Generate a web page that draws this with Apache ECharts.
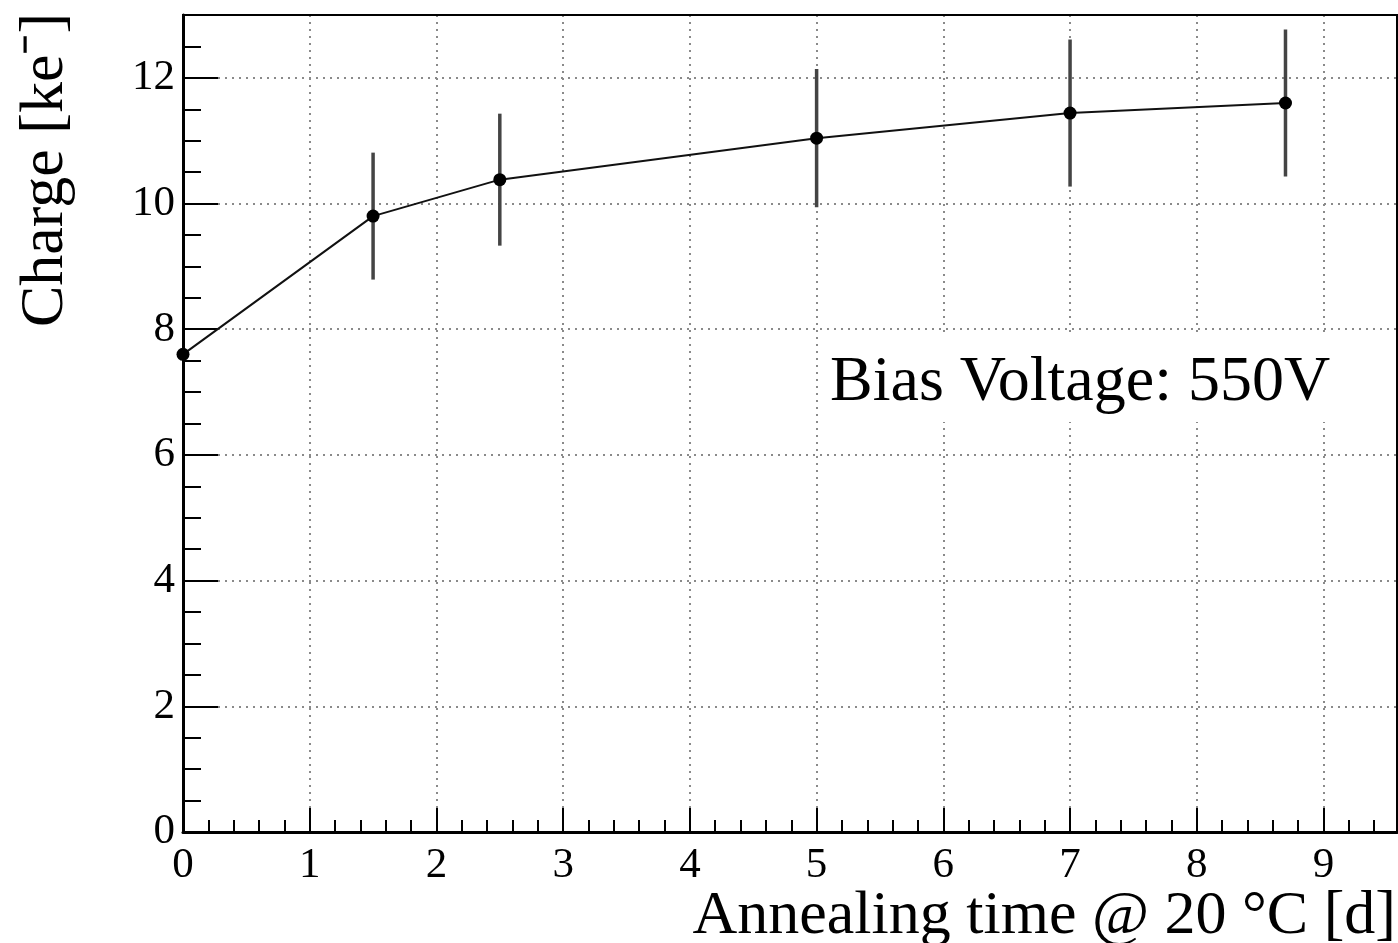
<!DOCTYPE html>
<html><head><meta charset="utf-8">
<script src="https://cdn.jsdelivr.net/npm/echarts@6/dist/echarts.min.js"></script>
<style>html,body{margin:0;padding:0;background:#fff}#c{width:1398px;height:943px}</style>
</head><body><div id="c"></div>
<script>
// ---- data ----
const annealDays = [0, 1.5, 2.5, 5, 7, 8.7];
const chargeKe   = [7.6, 9.8, 10.38, 11.04, 11.44, 11.6];
const chargeErr  = [0, 1.01, 1.05, 1.1, 1.17, 1.17];
const xTitle = 'Annealing time @ 20 °C [d]';
const yTitle = 'Charge [ke\u207B]';
const noteText = 'Bias Voltage: 550V';

const X_MIN = 0, X_MAX = 9.58, Y_MIN = 0, Y_MAX = 13;
const FONT = "'Liberation Serif', 'Times New Roman', serif";

const pts = annealDays.map((x, i) => [x, chargeKe[i]]);
const errs = annealDays.map((x, i) => [x, chargeKe[i], chargeErr[i]]);

const chart = echarts.init(document.getElementById('c'), null, {renderer: 'canvas'});
const gridStyle = {show: true, lineStyle: {color: '#8a8a8a', width: 2, type: [2, 5]}};

chart.setOption({
  animation: false,
  backgroundColor: '#fff',
  grid: {left: 183, top: 15, right: 1, bottom: 111, show: false, containLabel: false},
  xAxis: [
    {type: 'value', min: X_MIN, max: X_MAX, interval: 1, position: 'bottom',
     axisLine: {show: true, onZero: false, lineStyle: {color: '#000', width: 3}},
     axisTick: {show: true, inside: true, length: 24, lineStyle: {color: '#000', width: 2}},
     axisLabel: {show: true, showMaxLabel: false, color: '#000', fontFamily: FONT, fontSize: 43, margin: 12},
     splitLine: gridStyle},
    {type: 'value', min: X_MIN, max: X_MAX, interval: 0.2, position: 'bottom',
     axisLine: {show: false, onZero: false},
     axisTick: {show: true, inside: true, length: 12, lineStyle: {color: '#000', width: 2}},
     axisLabel: {show: false}, splitLine: {show: false}}
  ],
  yAxis: [
    {type: 'value', min: Y_MIN, max: Y_MAX, interval: 2, position: 'left',
     axisLine: {show: true, onZero: false, lineStyle: {color: '#000', width: 3}},
     axisTick: {show: true, inside: true, length: 35, lineStyle: {color: '#000', width: 2}},
     axisLabel: {show: true, showMaxLabel: false, color: '#000', fontFamily: FONT, fontSize: 43, margin: 8},
     splitLine: gridStyle},
    {type: 'value', min: Y_MIN, max: Y_MAX, interval: 0.5, position: 'left',
     axisLine: {show: false, onZero: false},
     axisTick: {show: true, inside: true, length: 18, lineStyle: {color: '#000', width: 2}},
     axisLabel: {show: false}, splitLine: {show: false}}
  ],
  series: [
    {type: 'custom', xAxisIndex: 0, yAxisIndex: 0, data: errs, z: 2,
     renderItem: function (params, api) {
       const x = api.value(0), y = api.value(1), e = api.value(2);
       if (!e) return null;
       const p1 = api.coord([x, y - e]);
       const p2 = api.coord([x, y + e]);
       return {type: 'line', shape: {x1: p1[0], y1: p1[1], x2: p2[0], y2: p2[1]},
               style: {stroke: '#444', lineWidth: 3.5}};
     }},
    {type: 'line', xAxisIndex: 0, yAxisIndex: 0, data: pts, z: 3,
     symbol: 'circle', symbolSize: 13, showSymbol: true,
     lineStyle: {color: '#111', width: 2},
     itemStyle: {color: '#000'}}
  ],
  graphic: [
    {type: 'rect', shape: {x: 183, y: 15, width: 1214, height: 817},
     style: {fill: null, stroke: '#000', lineWidth: 2}, z: 40, silent: true},
    {type: 'rect', shape: {x: 821, y: 334, width: 524, height: 88}, style: {fill: '#fff'}, z: 50},
    {type: 'text', x: 830, y: 383, z: 51,
     style: {text: noteText, fontFamily: FONT, fontSize: 64, fill: '#000', align: 'left', verticalAlign: 'middle'}},
    {type: 'text', x: 1396, y: 917, z: 51,
     style: {text: xTitle, fontFamily: FONT, fontSize: 62, fill: '#000', align: 'right', verticalAlign: 'middle'}},
    {type: 'text', x: 46, y: 170, rotation: Math.PI / 2, z: 51,
     style: {text: yTitle, fontFamily: FONT, fontSize: 62, fill: '#000', align: 'center', verticalAlign: 'middle'}}
  ]
});
</script></body></html>
